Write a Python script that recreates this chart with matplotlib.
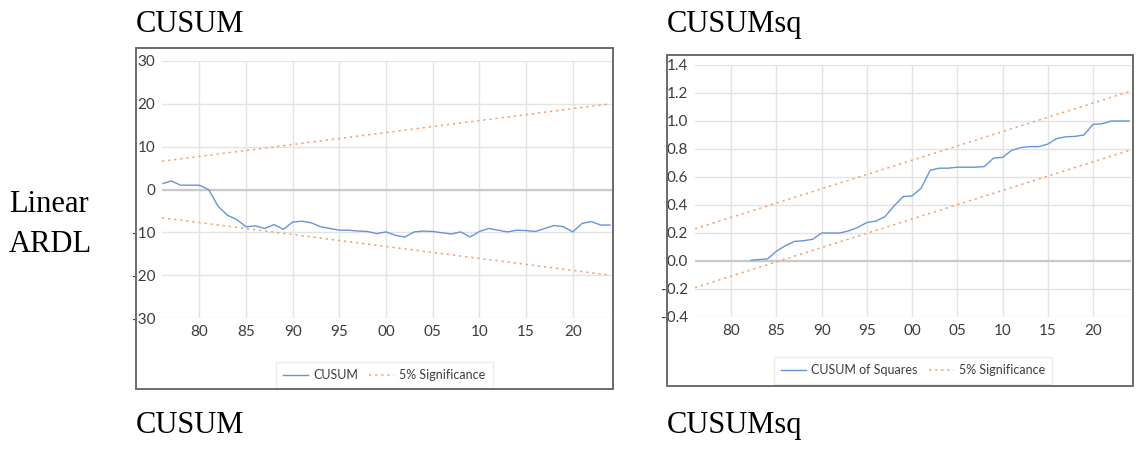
import matplotlib
matplotlib.use("Agg")
import matplotlib.pyplot as plt
from matplotlib.patches import Rectangle

W, H = 1143, 449

# ---- data ----
cusum_years = [1976.1, 1977, 1978, 1979, 1980, 1981, 1982, 1983, 1984, 1985,
               1986, 1987, 1988, 1989, 1990, 1991, 1992, 1993, 1994, 1995,
               1996, 1997, 1998, 1999, 2000, 2001, 2002, 2003, 2004, 2005,
               2006, 2007, 2008, 2009, 2010, 2011, 2012, 2013, 2014, 2015,
               2016, 2017, 2018, 2019, 2020, 2021, 2022, 2023, 2024]
cusum_vals = [1.4, 2.0, 1.0, 1.0, 1.0, 0.0, -3.9, -6.0, -7.0, -8.7,
              -8.5, -9.1, -8.2, -9.3, -7.6, -7.4, -7.8, -8.7, -9.1, -9.5,
              -9.5, -9.7, -9.8, -10.3, -9.9, -10.7, -11.1, -9.9, -9.7, -9.8,
              -10.1, -10.4, -9.9, -11.1, -9.8, -9.1, -9.5, -9.9, -9.5, -9.6,
              -9.8, -9.1, -8.4, -8.7, -9.9, -7.9, -7.5, -8.3, -8.3]
cusum_bound_years = [1976, 2024]
cusum_upper = [6.6, 20.0]
cusum_lower = [-6.6, -20.0]

cusumsq_years = [1982.2, 1983, 1984, 1985, 1986, 1987, 1988, 1989, 1990, 1991,
                 1992, 1993, 1994, 1995, 1996, 1997, 1998, 1999, 2000, 2001,
                 2002, 2003, 2004, 2005, 2006, 2007, 2008, 2009, 2010, 2011,
                 2012, 2013, 2014, 2015, 2016, 2017, 2018, 2019, 2020, 2021,
                 2022, 2023, 2024]
cusumsq_vals = [0.005, 0.01, 0.015, 0.07, 0.11, 0.14, 0.145, 0.155, 0.20, 0.20,
                0.20, 0.215, 0.24, 0.275, 0.285, 0.317, 0.393, 0.46, 0.465, 0.52,
                0.648, 0.663, 0.663, 0.67, 0.67, 0.67, 0.675, 0.735, 0.74, 0.79,
                0.81, 0.817, 0.817, 0.835, 0.875, 0.887, 0.89, 0.90, 0.976, 0.98,
                1.0, 1.0, 1.0]
sq_bound_years = [1976, 2024]
sq_upper = [0.23, 1.21]
sq_lower = [-0.19, 0.79]

year_ticks = [1980, 1985, 1990, 1995, 2000, 2005, 2010, 2015, 2020]
year_labels = ["80", "85", "90", "95", "00", "05", "10", "15", "20"]
cusum_yticks = [-30, -20, -10, 0, 10, 20, 30]
sq_yticks = [-0.4, -0.2, 0.0, 0.2, 0.4, 0.6, 0.8, 1.0, 1.2, 1.4]

BLUE = "#6595d8"
ORANGE = "#f2a272"
GRID = "#e3e3e3"
ZERO = "#c9c9c9"
TXT = "#3c3c3c"
SANS = ["Lato", "DejaVu Sans"]
SERIF = ["Liberation Serif", "DejaVu Serif"]
DOTS = (0, (1.5, 2.5))


def px_rect(x0, y0, x1, y1):
    """pixel box (top-left origin) -> figure fraction [l, b, w, h]"""
    return [x0 / W, 1 - y1 / H, (x1 - x0) / W, (y1 - y0) / H]


def style_axes(ax, yticks, fmt):
    for s in ax.spines.values():
        s.set_visible(False)
    ax.set_xlim(1976, 2024.2)
    ax.set_xticks(year_ticks)
    ax.set_xticklabels(year_labels)
    ax.set_yticks(yticks)
    ax.set_yticklabels([fmt(v) for v in yticks])
    ax.tick_params(length=0, labelsize=11, labelcolor=TXT, pad=5)
    for lab in ax.get_xticklabels() + ax.get_yticklabels():
        lab.set_family(SANS)
    ax.grid(True, color=GRID, linewidth=1)
    ax.set_axisbelow(True)
    ax.axhline(0, color=ZERO, linewidth=1.6, zorder=1)


def add_legend(ax, cx, cy):
    ax.legend(loc="center", bbox_to_anchor=(cx / W, 1 - cy / H),
              bbox_transform=fig.transFigure, ncol=2, frameon=True,
              fancybox=False, edgecolor="#e6e6e6",
              prop={"family": SANS, "size": 9}, handlelength=2.0,
              handletextpad=0.4, columnspacing=0.9, borderpad=0.6,
              labelcolor=TXT)


fig = plt.figure(figsize=(W / 100, H / 100), dpi=100)

# frames around each panel
for x0, y0, x1, y1 in [(136, 48, 613, 389), (667, 55, 1133, 386)]:
    fig.patches.append(Rectangle((x0 / W, 1 - y1 / H), (x1 - x0) / W, (y1 - y0) / H,
                                 transform=fig.transFigure, fill=False,
                                 edgecolor="#6a6a6a", linewidth=1.4))

# CUSUM panel
ax1 = fig.add_axes(px_rect(162, 61, 612, 318))
style_axes(ax1, cusum_yticks, lambda v: f"{v:d}")
ax1.set_ylim(-30, 30)
ax1.plot(cusum_years, cusum_vals, color=BLUE, linewidth=1.0, label="CUSUM")
ax1.plot(cusum_bound_years, cusum_upper, color=ORANGE, linewidth=1.1,
         linestyle=DOTS, label="5% Significance")
ax1.plot(cusum_bound_years, cusum_lower, color=ORANGE, linewidth=1.1,
         linestyle=DOTS)
add_legend(ax1, 384.5, 375)

# CUSUM of squares panel
ax2 = fig.add_axes(px_rect(695, 65, 1131, 317))
style_axes(ax2, sq_yticks, lambda v: f"{v:.1f}")
ax2.set_ylim(-0.4, 1.4)
ax2.plot(cusumsq_years, cusumsq_vals, color=BLUE, linewidth=1.0,
         label="CUSUM of Squares")
ax2.plot(sq_bound_years, sq_upper, color=ORANGE, linewidth=1.1,
         linestyle=DOTS, label="5% Significance")
ax2.plot(sq_bound_years, sq_lower, color=ORANGE, linewidth=1.1,
         linestyle=DOTS)
add_legend(ax2, 913, 370.5)


# serif captions
def caption(x, y, s):
    fig.text(x / W, 1 - y / H, s, family=SERIF, fontsize=22, color="black",
             ha="left", va="baseline")


caption(136, 32, "CUSUM")
caption(667, 32, "CUSUMsq")
caption(136, 433, "CUSUM")
caption(667, 433, "CUSUMsq")
caption(9, 212, "Linear")
caption(9, 252, "ARDL")

fig.savefig("out.png", dpi=100)
